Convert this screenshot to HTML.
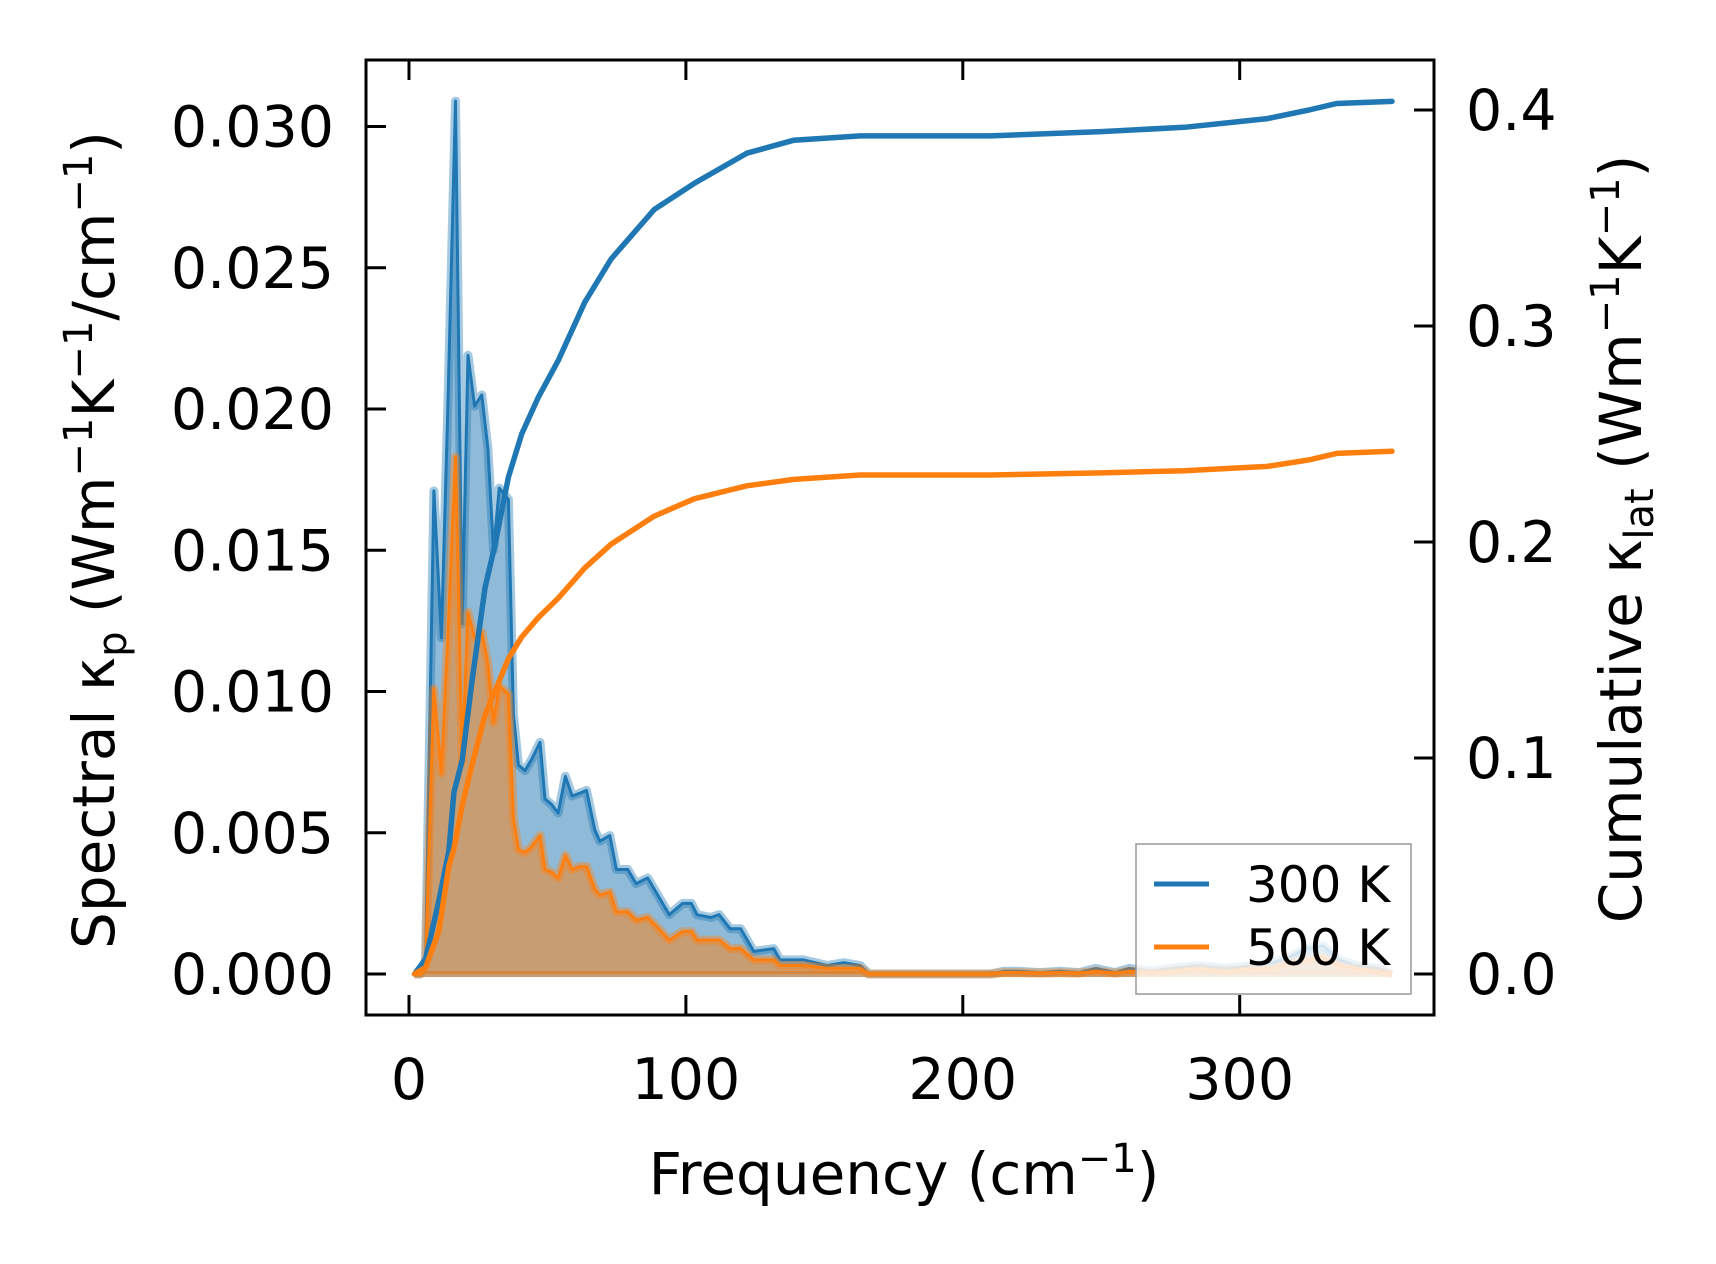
<!DOCTYPE html>
<html><head><meta charset="utf-8"><style>
html,body{margin:0;padding:0;background:#fff;}
svg{display:block;font-family:"DejaVu Sans","Liberation Sans",sans-serif;}
</style></head><body>
<svg id="chart" width="1716" height="1264" viewBox="0 0 1716 1264" xmlns="http://www.w3.org/2000/svg">
<rect x="0" y="0" width="1716" height="1264" fill="#fff"/>
<g id="plot"></g>
<g id="axes"></g>
<text x="114" y="540" font-size="58" text-anchor="middle" transform="rotate(-90 114 540)">Spectral κ<tspan font-size="40" dy="12">p</tspan><tspan dy="-12"> (Wm</tspan><tspan font-size="40" dy="-22">−1</tspan><tspan dy="22">K</tspan><tspan font-size="40" dy="-22">−1</tspan><tspan dy="22">/cm</tspan><tspan font-size="40" dy="-22">−1</tspan><tspan dy="22">)</tspan></text>
<text x="1641" y="539" font-size="58" text-anchor="middle" transform="rotate(-90 1641 539)">Cumulative κ<tspan font-size="40" dy="12">lat</tspan><tspan dy="-12"> (Wm</tspan><tspan font-size="40" dy="-22">−1</tspan><tspan dy="22">K</tspan><tspan font-size="40" dy="-22">−1</tspan><tspan dy="22">)</tspan></text>
<text x="904" y="1194" font-size="58" text-anchor="middle">Frequency (cm<tspan font-size="40" dy="-22">−1</tspan><tspan dy="22">)</tspan></text>
<g>
<rect x="1136" y="844" width="275" height="150" fill="#fff" fill-opacity="0.8" stroke="#999" stroke-width="1.5"/>
<line x1="1154" y1="884" x2="1209" y2="884" stroke="#1f77b4" stroke-width="5"/>
<text x="1246" y="902" font-size="50">300 K</text>
<line x1="1154" y1="947" x2="1209" y2="947" stroke="#ff7f0e" stroke-width="5"/>
<text x="1246" y="965" font-size="50">500 K</text>
</g>
</svg>
<script>
const freqs = [2,4,6,9,11.7,14,16.8,19.2,21.3,23.7,26.3,28.5,30.5,32.6,35.9,37.7,39.5,41.9,44.3,47.3,49.1,51.5,53.9,56.5,58.9,61.7,64.1,67.1,68.9,72.5,74.9,79,82,86.2,89.2,94,98.8,102,104,109,112,116,119.8,124.5,131.7,134,142.5,151,157,163,166,180,200,210,215,220,228,235,242,248,255,260,268,275,285,295,305,312,318,324,330,336,342,350,355];
const spec300 = [0,0,0.0005,0.0171,0.0119,0.02,0.0309,0.0124,0.0219,0.0201,0.0205,0.0186,0.015,0.0172,0.0168,0.0092,0.0074,0.0072,0.0076,0.0082,0.0062,0.006,0.0057,0.007,0.0063,0.0064,0.0065,0.0051,0.0047,0.0049,0.0037,0.0037,0.0032,0.0034,0.0029,0.0021,0.0025,0.0025,0.0021,0.002,0.0021,0.0016,0.0016,0.0008,0.0009,0.0005,0.0005,0.0003,0.0004,0.0003,0,0,0,0,0.0001,0.0001,0.00005,0.0001,0.00005,0.0002,0.00005,0.0002,0.0001,0.0002,0.0003,0.0002,0.0003,0.0004,0.0006,0.0009,0.001,0.0005,0.0003,0.0002,0];
const spec500 = [0,0,0.0003,0.0101,0.0071,0.0119,0.0183,0.0075,0.0128,0.0119,0.0121,0.011,0.0089,0.0102,0.0099,0.0055,0.0044,0.0043,0.0045,0.0049,0.0037,0.0036,0.0034,0.0042,0.0037,0.0038,0.0038,0.003,0.0028,0.0029,0.0022,0.0022,0.0019,0.002,0.0017,0.0012,0.0015,0.0015,0.0012,0.0012,0.0012,0.0009,0.0009,0.0005,0.0005,0.0003,0.0003,0.0002,0.0002,0.0002,0,0,0,0,0.00005,0.00005,0.00003,0.00005,0.00003,0.0001,0.00003,0.0001,0.00005,0.0001,0.0002,0.0001,0.0002,0.0002,0.0004,0.0005,0.0006,0.0003,0.0002,0.0001,0];
const cumFreqs = [2,6,10.8,14.4,16.2,19.2,22.8,27.5,31.1,35.9,40.7,46.7,53.9,63.5,73,88.6,103,122,139,163,210,250,280,310,325,335,355];
const cum300 = [0,0.007,0.034,0.057,0.084,0.099,0.136,0.179,0.199,0.23,0.25,0.267,0.284,0.311,0.331,0.354,0.366,0.38,0.386,0.388,0.388,0.39,0.392,0.396,0.4,0.403,0.404];
const cum500 = [0,0.003,0.02,0.05,0.058,0.078,0.097,0.12,0.131,0.146,0.156,0.165,0.174,0.188,0.199,0.212,0.22,0.226,0.229,0.231,0.231,0.232,0.233,0.235,0.238,0.241,0.242];
const xTicks = [0,100,200,300];
const yLeftTicks = [0,0.005,0.01,0.015,0.02,0.025,0.03];
const yLeftLabels = ["0.000","0.005","0.010","0.015","0.020","0.025","0.030"];
const yRightTicks = [0,0.1,0.2,0.3,0.4];
const yRightLabels = ["0.0","0.1","0.2","0.3","0.4"];

const L=366,R=1434,T=60,B=1015;
const X = f => 409 + f*2.769;
const YL = v => 974 - v/0.005*141.25;
const YR = v => 974 - v/0.4*864;
const NS='http://www.w3.org/2000/svg';
const plot=document.getElementById('plot'), axes=document.getElementById('axes');
function mk(tag, attrs, parent){const e=document.createElementNS(NS,tag);for(const k in attrs)e.setAttribute(k,attrs[k]);parent.appendChild(e);return e;}

function spectral(vals, color, name){
  let d='M'+X(freqs[0])+','+YL(0);
  freqs.forEach((f,i)=>{d+=' L'+X(f).toFixed(1)+','+YL(vals[i]).toFixed(1);});
  d+=' L'+X(freqs[freqs.length-1])+','+YL(0)+' Z';
  const a=mk('path',{d:d,fill:color,'fill-opacity':0.5,stroke:'none'},plot);
  
  
  let l='';
  freqs.forEach((f,i)=>{l+=(i?' L':'M')+X(f).toFixed(1)+','+YL(vals[i]).toFixed(1);});
  const b=mk('path',{d:l,fill:'none',stroke:color,'stroke-opacity':0.4,'stroke-width':9,'stroke-linejoin':'round'},plot);
  
  
  const c=mk('path',{d:l,fill:'none',stroke:color,'stroke-width':3,'stroke-linejoin':'round'},plot);
  
  
  const z=mk('line',{x1:X(freqs[0]),x2:X(freqs[freqs.length-1]),y1:YL(0),y2:YL(0),stroke:color,'stroke-opacity':0.5,'stroke-width':6},plot);
  
  
}
spectral(spec300,'#1f77b4','spectral-300k');
spectral(spec500,'#ff7f0e','spectral-500k');

function cum(vals,color,name){
  let l='';
  cumFreqs.forEach((f,i)=>{l+=(i?' L':'M')+X(f).toFixed(1)+','+YR(vals[i]).toFixed(1);});
  const c=mk('path',{d:l,fill:'none',stroke:color,'stroke-width':5.5,'stroke-linejoin':'round','stroke-linecap':'round'},plot);
  
  
}
cum(cum300,'#1f77b4','cumulative-300k');
cum(cum500,'#ff7f0e','cumulative-500k');

const frame=mk('rect',{x:L,y:T,width:R-L,height:B-T,fill:'none',stroke:'#000','stroke-width':3},axes);


xTicks.forEach(t=>{
  const x=X(t);
  const a=mk('line',{x1:x,x2:x,y1:B,y2:B-20,stroke:'#000','stroke-width':3},axes);
  
  
  const b=mk('line',{x1:x,x2:x,y1:T,y2:T+20,stroke:'#000','stroke-width':3},axes);
  
  
  const s=mk('text',{x:x,y:1099,'font-size':57,'text-anchor':'middle'},axes);
  s.textContent=t;
  
  
});
yLeftTicks.forEach((t,i)=>{
  const y=YL(t);
  const a=mk('line',{x1:L,x2:L+20,y1:y,y2:y,stroke:'#000','stroke-width':3},axes);
  
  
  const s=mk('text',{x:334,y:y+20,'font-size':57,'text-anchor':'end'},axes);
  s.textContent=yLeftLabels[i];
  
  
});
yRightTicks.forEach((t,i)=>{
  const y=YR(t);
  const a=mk('line',{x1:R,x2:R-20,y1:y,y2:y,stroke:'#000','stroke-width':3},axes);
  
  
  const s=mk('text',{x:1466,y:y+20,'font-size':57,'text-anchor':'start'},axes);
  s.textContent=yRightLabels[i];
  
  
});
</script>
</body></html>
